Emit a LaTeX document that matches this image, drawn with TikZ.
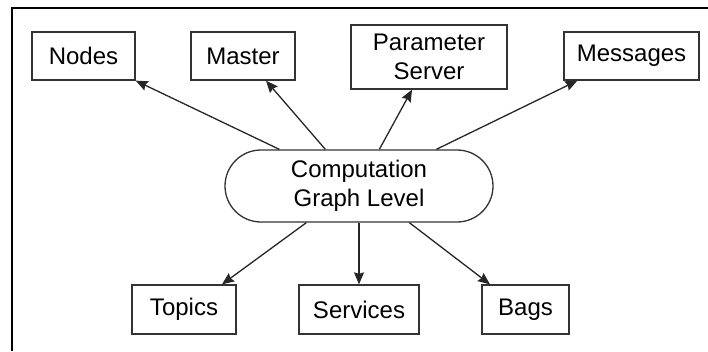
\documentclass[tikz,border=0pt]{standalone}
\usepackage{fontspec}
\setmainfont{Liberation Sans}
\usetikzlibrary{arrows.meta}
\begin{document}
\begin{tikzpicture}[x=1pt,y=-1pt,
  box/.style={draw=black!80,line width=1.3pt,align=center,inner sep=0pt,
    font=\fontsize{24}{29}\selectfont},
  pill/.style={box,rounded corners=36pt,minimum width=268pt,minimum height=72pt},
  conn/.style={draw=black!85,line width=1.3pt,-{Stealth[length=12pt,width=10pt,inset=1.5pt]}}]
\useasboundingbox (0,0) rectangle (708,351);
\draw[line width=2pt] (11.5,351) -- (11.5,7.5) -- (708,7.5);
\node[box,minimum width=103pt,minimum height=48pt] (nodes) at (83.5,56) {Nodes};
\node[box,minimum width=104pt,minimum height=48pt] (master) at (243,56) {Master};
\node[box,minimum width=156pt,minimum height=64pt] (param) at (429,57) {Parameter\\Server};
\node[box,minimum width=135pt,minimum height=48pt] (msgs) at (631.5,56) {Messages};
\node[pill] (cgl) at (359,186) {Computation\\Graph Level};
\node[box,minimum width=104pt,minimum height=49pt] (topics) at (184,309.5) {Topics};
\node[box,minimum width=120pt,minimum height=49pt] (services) at (359,309.5) {Services};
\node[box,minimum width=87pt,minimum height=49pt] (bags) at (525.5,309.5) {Bags};
\draw[conn] ([xshift=55pt]cgl.north west) -- (nodes.south east);
\draw[conn] ([xshift=101pt]cgl.north west) -- ([xshift=23pt]master.south);
\draw[conn] ([xshift=155pt]cgl.north west) -- ([xshift=-17pt]param.south);
\draw[conn] ([xshift=212pt]cgl.north west) -- ([xshift=14pt]msgs.south west);
\draw[conn] ([xshift=82pt]cgl.south west) -- ([xshift=38pt]topics.north);
\draw[conn] (cgl.south) -- (services.north);
\draw[conn] ([xshift=185pt]cgl.south west) -- ([xshift=-35.5pt]bags.north);
\end{tikzpicture}
\end{document}
